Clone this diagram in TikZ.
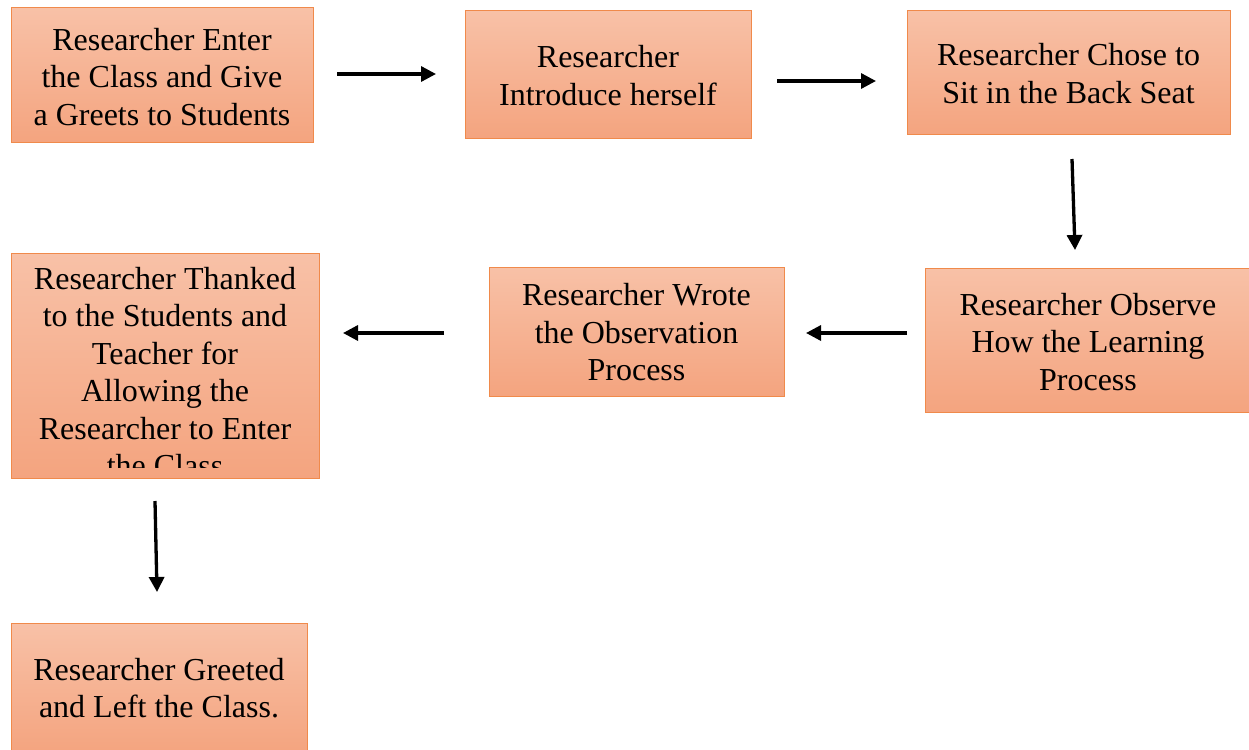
\documentclass[tikz,border=0pt]{standalone}
\usepackage{fontspec}
\setmainfont{Liberation Serif}
\usetikzlibrary{arrows.meta}
\definecolor{boxtop}{HTML}{F8C1A7}
\definecolor{boxbot}{HTML}{F4A47F}
\definecolor{boxline}{HTML}{F08A4B}
\begin{document}
\begin{tikzpicture}[x=1pt,y=-1pt,
  box/.style={draw=boxline, line width=1pt, top color=boxtop, bottom color=boxbot, inner sep=0pt, align=center,
    font=\fontsize{32}{37.5}\selectfont},
  txt/.style={inner sep=0pt, align=center, font=\fontsize{32}{37.5}\selectfont},
  arr/.style={line width=3.3pt, -{Triangle[length=15pt,width=15pt]}}]
\useasboundingbox (0,0) rectangle (1249,749);
\fill[white] (0,0) rectangle (1249,749);

\node[box, minimum width=302pt, minimum height=134pt] (b1) at (162,75) {};
\node[txt] (t1) at (162,77) {Researcher Enter\\the Class and Give\\a Greets to Students};

\node[box, minimum width=286pt, minimum height=127pt] (b2) at (608,74.5) {};
\node[txt] (t2) at (608,75.5) {Researcher\\Introduce herself};

\node[box, minimum width=323pt, minimum height=123pt] (b3) at (1068.5,72.5) {};
\node[txt] (t3) at (1068.5,73.5) {Researcher Chose to\\Sit in the Back Seat};

\node[box, minimum width=326pt, minimum height=144pt] (b4) at (1088,340) {};
\node[txt] (t4) at (1088,342) {Researcher Observe\\How the Learning\\Process};

\node[box, minimum width=295pt, minimum height=129pt] (b5) at (636.5,331.5) {};
\node[txt] (t5) at (636.5,332.5) {Researcher Wrote\\the Observation\\Process};

\node[box, minimum width=308pt, minimum height=225pt] (b6) at (165,365.5) {};
\begin{scope}
  \clip (12,254) rectangle (318,467);
  \node[txt, anchor=north] (t6) at (165,267) {Researcher Thanked\\to the Students and\\Teacher for\\Allowing the\\Researcher to Enter\\the Class};
\end{scope}

\node[box, minimum width=296pt, minimum height=130pt] (b7) at (159,688) {};
\node[txt] (t7) at (159,688) {Researcher Greeted\\and Left the Class.};

\coordinate (a1s) at (337,74);  \coordinate (a1e) at (436,74);
\coordinate (a2s) at (777,81);  \coordinate (a2e) at (876,81);
\coordinate (a3s) at (1072,159); \coordinate (a3e) at (1075,250);
\coordinate (a4s) at (907,333); \coordinate (a4e) at (806,333);
\coordinate (a5s) at (444,333); \coordinate (a5e) at (343,333);
\coordinate (a6s) at (155,501); \coordinate (a6e) at (157,592);

\draw[arr] (a1s) -- (a1e);
\draw[arr] (a2s) -- (a2e);
\draw[arr] (a3s) -- (a3e);
\draw[arr] (a4s) -- (a4e);
\draw[arr] (a5s) -- (a5e);
\draw[arr] (a6s) -- (a6e);
\end{tikzpicture}
\end{document}
